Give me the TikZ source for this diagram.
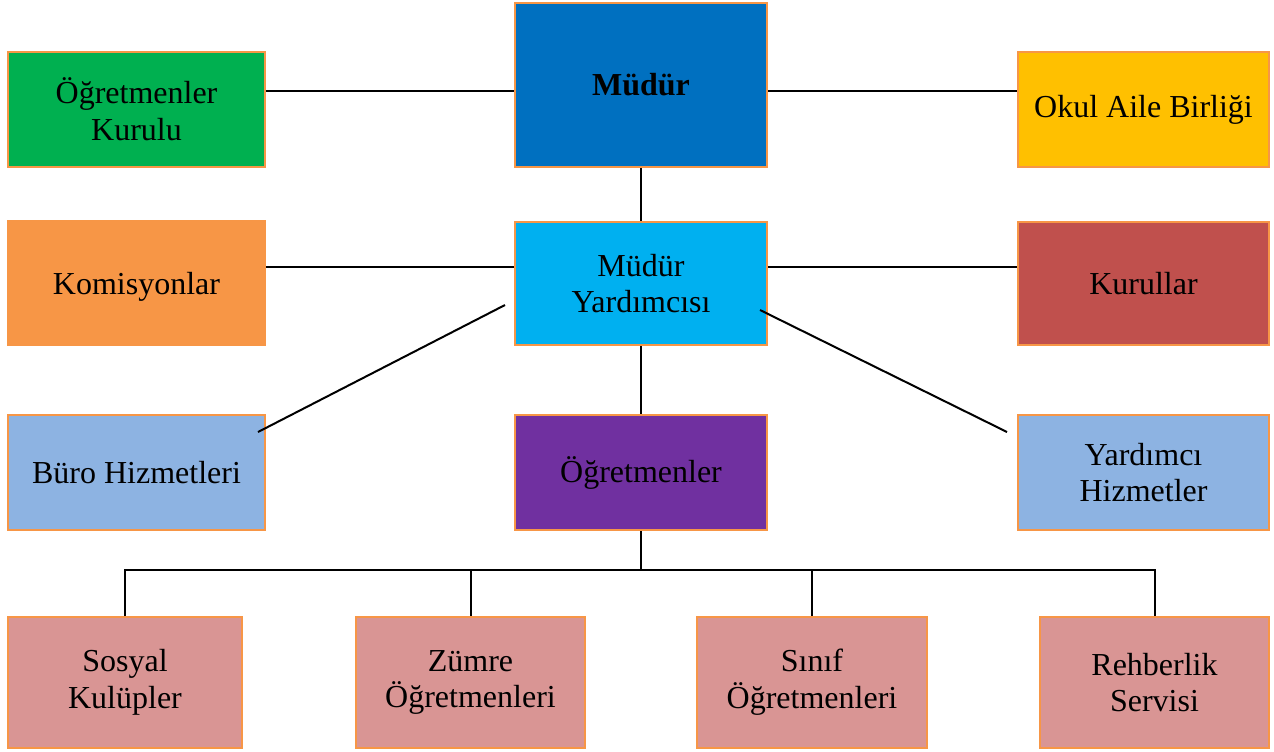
\documentclass[tikz,border=0pt]{standalone}
\usepackage{fontspec}
\setmainfont{Liberation Serif}
\usepackage{xcolor}
\usepackage{tikz}

\definecolor{kurulugreen}{HTML}{00B050}
\definecolor{mudurblue}{HTML}{0070C0}
\definecolor{okulgold}{HTML}{FFC000}
\definecolor{edgeorange}{HTML}{F79646}
\definecolor{yardcyan}{HTML}{00B0F0}
\definecolor{kurullarred}{HTML}{C0504D}
\definecolor{hizmetblue}{HTML}{8DB3E2}
\definecolor{ogretmenpurple}{HTML}{7030A0}
\definecolor{altpink}{HTML}{D99594}

\begin{document}
\begin{tikzpicture}[x=0.5pt, y=-0.5pt,
        unitbox/.style={draw=edgeorange, line width=1pt, align=center, inner sep=0pt,
            font=\fontsize{16}{18.4}\selectfont},
        link/.style={draw=black, line width=1pt}]
            \useasboundingbox (0,0) rectangle (1274,751);

            % top row
            \node[unitbox, fill=kurulugreen, minimum width=128.5pt, minimum height=57.5pt] (kurulu) at (136.5,109.5) {Öğretmenler\\Kurulu};
            \node[unitbox, fill=mudurblue, minimum width=126pt, minimum height=82pt, font=\fontsize{16}{18.4}\selectfont\bfseries] (mudur) at (641,85) {Müdür};
            \node[unitbox, fill=okulgold, minimum width=125.5pt, minimum height=57.5pt] (okul) at (1143.5,109.5) {Okul Aile Birliği};

            % middle row
            \node[unitbox, fill=edgeorange, minimum width=128.5pt, minimum height=62pt] (komisyon) at (136.5,283) {Komisyonlar\\[-18.4pt]\phantom{x}};
            \node[unitbox, fill=yardcyan, minimum width=126pt, minimum height=61.5pt] (yard) at (641,283.5) {Müdür\\Yardımcısı};
            \node[unitbox, fill=kurullarred, minimum width=125.5pt, minimum height=61.5pt] (kurullar) at (1143.5,283.5) {Kurullar};

            % third row
            \node[unitbox, fill=hizmetblue, minimum width=128.5pt, minimum height=57.5pt] (buro) at (136.5,472.5) {Büro Hizmetleri};
            \node[unitbox, fill=ogretmenpurple, minimum width=126pt, minimum height=57.5pt] (ogretmen) at (641,472.5) {Öğretmenler};
            \node[unitbox, fill=hizmetblue, minimum width=125.5pt, minimum height=57.5pt] (yardimci) at (1143.5,472.5) {Yardımcı\\Hizmetler};

            % bottom row
            \node[unitbox, fill=altpink, minimum width=117pt, minimum height=65.5pt] (sosyal) at (125,682.5) {Sosyal\\Kulüpler};
            \node[unitbox, fill=altpink, minimum width=114.5pt, minimum height=65.5pt] (zumre) at (470.5,682.5) {Zümre\\Öğretmenleri};
            \node[unitbox, fill=altpink, minimum width=115pt, minimum height=65.5pt] (sinif) at (812,682.5) {Sınıf\\Öğretmenleri};
            \node[unitbox, fill=altpink, minimum width=114.5pt, minimum height=65.5pt] (rehber) at (1154.5,682.5) {Rehberlik\\Servisi};

            \coordinate (topline) at (641,91);
            \coordinate (midline) at (641,267);
            \coordinate (bus) at (641,570);
            \coordinate (buroend) at (258,432);
            \coordinate (yardleft) at (505,305);
            \coordinate (yardright) at (760,310);
            \coordinate (yardimciend) at (1007,432);

            \draw[link] (kurulu.east |- topline) -- (mudur.west |- topline); % kurulu-mudur
            \draw[link] (mudur.east |- topline) -- (okul.west |- topline); % mudur-okul
            \draw[link] (mudur.south) -- (yard.north); % mudur-yard
            \draw[link] (komisyon.east |- midline) -- (yard.west |- midline); % komisyon-yard
            \draw[link] (yard.east |- midline) -- (kurullar.west |- midline); % yard-kurullar
            \draw[link] (buroend) -- (yardleft); % buro-yard
            \draw[link] (yardright) -- (yardimciend); % yard-yardimci
            \draw[link] (yard.south) -- (ogretmen.north); % yard-ogretmen

            \draw[link] (ogretmen.south) -- (bus);
            \draw[link] (sosyal.north) |- (rehber.north |- bus) -- (rehber.north);
            \draw[link] (zumre.north |- bus) -- (zumre.north);
            \draw[link] (sinif.north |- bus) -- (sinif.north);
        \end{tikzpicture}
\end{document}
